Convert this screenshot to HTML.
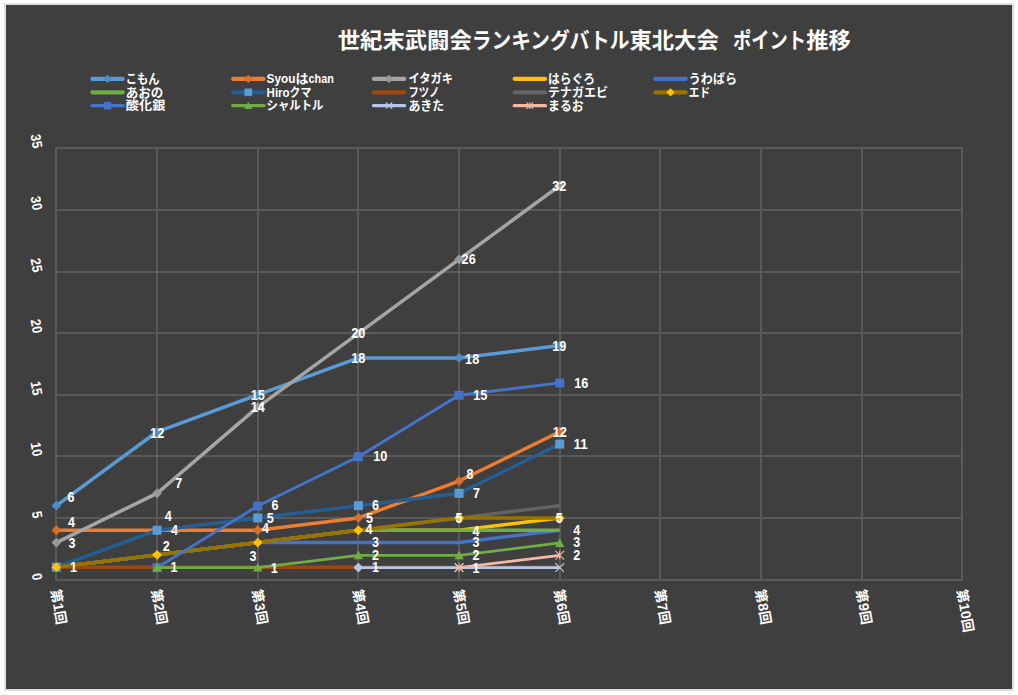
<!DOCTYPE html>
<html lang="ja"><head><meta charset="utf-8"><title>世紀末武闘会ランキングバトル東北大会 ポイント推移</title>
<style>
html,body{margin:0;padding:0;background:#fff;}
body{width:1018px;height:695px;overflow:hidden;font-family:"Liberation Sans","Noto Sans CJK JP",sans-serif;}
svg{display:block;}
svg text{font-family:"Liberation Sans","Noto Sans CJK JP",sans-serif;font-weight:bold;fill:#fff;stroke:none;}
.jt{stroke-linejoin:round;}
</style></head><body>
<svg width="1018" height="695" viewBox="0 0 1018 695">
<rect x="0" y="0" width="1018" height="695" fill="#fff"/>
<rect x="4" y="3" width="1010" height="688" fill="#dfdfdf"/>
<rect x="6" y="5" width="1006" height="684" fill="#3f3f3f"/>
<path d="M55 580H963M55 518H963M55 456H963M55 395H963M55 333H963M55 272H963M55 210H963M55 148H963M56 148V580M157 148V580M258 148V580M358 148V580M459 148V580M560 148V580M660 148V580M761 148V580M862 148V580M962 148V580" stroke="#5a5a5a" stroke-width="2" fill="none"/>
<path d="M56.40 505.64 L157.07 431.78 L257.73 394.85 L358.40 357.92 L459.07 357.92 L559.74 345.61" stroke="#5B9BD5" stroke-width="3.5" fill="none" stroke-linejoin="round"/>
<path d="M56.40 500.74 L61.30 505.64 L56.40 510.54 L51.50 505.64Z" fill="#4F8CC6"/>
<path d="M157.07 426.88 L161.97 431.78 L157.07 436.68 L152.17 431.78Z" fill="#4F8CC6"/>
<path d="M257.73 389.95 L262.63 394.85 L257.73 399.75 L252.83 394.85Z" fill="#4F8CC6"/>
<path d="M358.40 353.02 L363.30 357.92 L358.40 362.82 L353.50 357.92Z" fill="#4F8CC6"/>
<path d="M459.07 353.02 L463.97 357.92 L459.07 362.82 L454.17 357.92Z" fill="#4F8CC6"/>
<path d="M559.74 340.71 L564.63 345.61 L559.74 350.51 L554.84 345.61Z" fill="#4F8CC6"/>
<path d="M56.40 530.26 L157.07 530.26 L257.73 530.26 L358.40 517.95 L459.07 481.02 L559.74 431.78" stroke="#ED7D31" stroke-width="3.5" fill="none" stroke-linejoin="round"/>
<path d="M56.40 525.36 L61.30 530.26 L56.40 535.16 L51.50 530.26Z" fill="#DB6E2A"/>
<path d="M157.07 525.36 L161.97 530.26 L157.07 535.16 L152.17 530.26Z" fill="#DB6E2A"/>
<path d="M257.73 525.36 L262.63 530.26 L257.73 535.16 L252.83 530.26Z" fill="#DB6E2A"/>
<path d="M358.40 513.05 L363.30 517.95 L358.40 522.85 L353.50 517.95Z" fill="#DB6E2A"/>
<path d="M459.07 476.12 L463.97 481.02 L459.07 485.92 L454.17 481.02Z" fill="#DB6E2A"/>
<path d="M559.74 426.88 L564.63 431.78 L559.74 436.68 L554.84 431.78Z" fill="#DB6E2A"/>
<path d="M56.40 542.57 L157.07 493.33 L257.73 407.16 L358.40 333.30 L459.07 259.44 L559.74 185.58" stroke="#A5A5A5" stroke-width="3.5" fill="none" stroke-linejoin="round"/>
<path d="M56.40 537.67 L61.30 542.57 L56.40 547.47 L51.50 542.57Z" fill="#9A9A9A"/>
<path d="M157.07 488.43 L161.97 493.33 L157.07 498.23 L152.17 493.33Z" fill="#9A9A9A"/>
<path d="M257.73 402.26 L262.63 407.16 L257.73 412.06 L252.83 407.16Z" fill="#9A9A9A"/>
<path d="M358.40 328.40 L363.30 333.30 L358.40 338.20 L353.50 333.30Z" fill="#9A9A9A"/>
<path d="M459.07 254.54 L463.97 259.44 L459.07 264.34 L454.17 259.44Z" fill="#9A9A9A"/>
<path d="M559.74 180.68 L564.63 185.58 L559.74 190.48 L554.84 185.58Z" fill="#9A9A9A"/>
<path d="M56.40 567.19 L157.07 554.88 L257.73 542.57 L358.40 530.26 L459.07 530.26 L559.74 517.95" stroke="#FFC000" stroke-width="3.5" fill="none" stroke-linejoin="round"/>
<path d="M56.40 567.19 L157.07 554.88 L257.73 542.57 L358.40 542.57 L459.07 542.57 L559.74 530.26" stroke="#4472C4" stroke-width="3.5" fill="none" stroke-linejoin="round"/>
<path d="M56.40 567.19 L157.07 554.88 L257.73 542.57 L358.40 530.26 L459.07 530.26 L559.74 530.26" stroke="#70AD47" stroke-width="3.5" fill="none" stroke-linejoin="round"/>
<path d="M56.40 567.19 L157.07 530.26 L257.73 517.95 L358.40 505.64 L459.07 493.33 L559.74 444.09" stroke="#255E91" stroke-width="3.5" fill="none" stroke-linejoin="round"/>
<rect x="51.90" y="562.69" width="9.00" height="9.00" fill="#5B9BD5"/>
<rect x="152.57" y="525.76" width="9.00" height="9.00" fill="#5B9BD5"/>
<rect x="253.23" y="513.45" width="9.00" height="9.00" fill="#5B9BD5"/>
<rect x="353.90" y="501.14" width="9.00" height="9.00" fill="#5B9BD5"/>
<rect x="454.57" y="488.83" width="9.00" height="9.00" fill="#5B9BD5"/>
<rect x="555.24" y="439.59" width="9.00" height="9.00" fill="#5B9BD5"/>
<path d="M56.40 567.19 L157.07 567.19 L257.73 567.19 L358.40 567.19 L459.07 567.19 L559.74 567.19" stroke="#9E480E" stroke-width="3.5" fill="none" stroke-linejoin="round"/>
<path d="M56.40 567.19 L157.07 554.88 L257.73 542.57 L358.40 530.26 L459.07 517.95 L559.74 505.64" stroke="#636363" stroke-width="3.5" fill="none" stroke-linejoin="round"/>
<path d="M56.40 567.19 L157.07 554.88 L257.73 542.57 L358.40 530.26 L459.07 517.95 L559.74 517.95" stroke="#997300" stroke-width="3.5" fill="none" stroke-linejoin="round"/>
<path d="M56.40 562.29 L61.30 567.19 L56.40 572.09 L51.50 567.19Z" fill="#FFC000"/>
<path d="M157.07 549.98 L161.97 554.88 L157.07 559.78 L152.17 554.88Z" fill="#FFC000"/>
<path d="M257.73 537.67 L262.63 542.57 L257.73 547.47 L252.83 542.57Z" fill="#FFC000"/>
<path d="M358.40 525.36 L363.30 530.26 L358.40 535.16 L353.50 530.26Z" fill="#FFC000"/>
<path d="M459.07 513.05 L463.97 517.95 L459.07 522.85 L454.17 517.95Z" fill="#FFC000"/>
<path d="M559.74 513.05 L564.63 517.95 L559.74 522.85 L554.84 517.95Z" fill="#FFC000"/>
<path d="M157.07 567.59 L257.73 506.04 L358.40 456.80 L459.07 395.25 L559.74 382.94" stroke="#4674CC" stroke-width="2.8" fill="none" stroke-linejoin="round"/>
<rect x="152.57" y="563.09" width="9.00" height="9.00" fill="#4472C4"/>
<rect x="253.23" y="501.54" width="9.00" height="9.00" fill="#4472C4"/>
<rect x="353.90" y="452.30" width="9.00" height="9.00" fill="#4472C4"/>
<rect x="454.57" y="390.75" width="9.00" height="9.00" fill="#4472C4"/>
<rect x="555.24" y="378.44" width="9.00" height="9.00" fill="#4472C4"/>
<path d="M157.07 567.59 L257.73 567.59 L358.40 555.28 L459.07 555.28 L559.74 542.97" stroke="#70AD47" stroke-width="2.8" fill="none" stroke-linejoin="round"/>
<path d="M157.07 562.89 L161.77 571.59 L152.37 571.59Z" fill="#70AD47"/>
<path d="M257.73 562.89 L262.43 571.59 L253.03 571.59Z" fill="#70AD47"/>
<path d="M358.40 550.58 L363.10 559.27 L353.70 559.27Z" fill="#70AD47"/>
<path d="M459.07 550.58 L463.77 559.27 L454.37 559.27Z" fill="#70AD47"/>
<path d="M559.74 538.27 L564.44 546.97 L555.03 546.97Z" fill="#70AD47"/>
<path d="M358.40 567.59 L459.07 567.59 L559.74 567.59" stroke="#B4C7E7" stroke-width="2.8" fill="none" stroke-linejoin="round"/>
<path d="M358.40 562.69 L363.30 567.59 L358.40 572.49 L353.50 567.59Z" fill="#B4C7E7"/>
<path d="M454.77 563.29 L463.37 571.89 M454.77 571.89 L463.37 563.29" stroke="#B4C7E7" stroke-width="1.2" fill="none"/>
<path d="M555.44 563.29 L564.03 571.89 M555.44 571.89 L564.03 563.29" stroke="#B4C7E7" stroke-width="1.2" fill="none"/>
<path d="M459.07 567.59 L559.74 555.28" stroke="#F4B8A4" stroke-width="2.8" fill="none" stroke-linejoin="round"/>
<path d="M454.77 563.29 L463.37 571.89 M454.77 571.89 L463.37 563.29 M459.07 563.29 L459.07 571.89" stroke="#F4B8A4" stroke-width="1.1" fill="none"/>
<path d="M555.44 550.98 L564.03 559.58 M555.44 559.58 L564.03 550.98 M559.74 550.98 L559.74 559.58" stroke="#F4B8A4" stroke-width="1.1" fill="none"/>
<g class="dl" font-size="14"><text x="67.4" y="501.9" textLength="7.0" lengthAdjust="spacingAndGlyphs">6</text><text x="68.1" y="527.1" textLength="7.0" lengthAdjust="spacingAndGlyphs">4</text><text x="68.6" y="548.0" textLength="7.0" lengthAdjust="spacingAndGlyphs">3</text><text x="70.0" y="572.2" textLength="7.0" lengthAdjust="spacingAndGlyphs">1</text><text x="150.1" y="437.6" textLength="14.1" lengthAdjust="spacingAndGlyphs">12</text><text x="175.2" y="487.9" textLength="7.0" lengthAdjust="spacingAndGlyphs">7</text><text x="164.8" y="520.9" textLength="7.0" lengthAdjust="spacingAndGlyphs">4</text><text x="171.0" y="535.4" textLength="7.0" lengthAdjust="spacingAndGlyphs">4</text><text x="162.7" y="550.6" textLength="7.0" lengthAdjust="spacingAndGlyphs">2</text><text x="170.5" y="572.0" textLength="7.0" lengthAdjust="spacingAndGlyphs">1</text><text x="250.8" y="400.1" textLength="14.1" lengthAdjust="spacingAndGlyphs">15</text><text x="250.8" y="412.1" textLength="14.1" lengthAdjust="spacingAndGlyphs">14</text><text x="271.4" y="510.1" textLength="7.0" lengthAdjust="spacingAndGlyphs">6</text><text x="266.7" y="522.9" textLength="7.0" lengthAdjust="spacingAndGlyphs">5</text><text x="261.9" y="533.0" textLength="7.0" lengthAdjust="spacingAndGlyphs">4</text><text x="249.6" y="560.5" textLength="7.0" lengthAdjust="spacingAndGlyphs">3</text><text x="270.8" y="573.1" textLength="7.0" lengthAdjust="spacingAndGlyphs">1</text><text x="351.3" y="338.4" textLength="14.1" lengthAdjust="spacingAndGlyphs">20</text><text x="351.3" y="362.9" textLength="14.1" lengthAdjust="spacingAndGlyphs">18</text><text x="373.3" y="461.4" textLength="14.1" lengthAdjust="spacingAndGlyphs">10</text><text x="372.1" y="510.1" textLength="7.0" lengthAdjust="spacingAndGlyphs">6</text><text x="366.1" y="523.1" textLength="7.0" lengthAdjust="spacingAndGlyphs">5</text><text x="365.4" y="534.4" textLength="7.0" lengthAdjust="spacingAndGlyphs">4</text><text x="372.1" y="547.2" textLength="7.0" lengthAdjust="spacingAndGlyphs">3</text><text x="372.1" y="559.8" textLength="7.0" lengthAdjust="spacingAndGlyphs">2</text><text x="372.1" y="572.4" textLength="7.0" lengthAdjust="spacingAndGlyphs">1</text><text x="461.6" y="263.9" textLength="14.1" lengthAdjust="spacingAndGlyphs">26</text><text x="465.1" y="363.9" textLength="14.1" lengthAdjust="spacingAndGlyphs">18</text><text x="473.3" y="399.8" textLength="14.1" lengthAdjust="spacingAndGlyphs">15</text><text x="466.4" y="479.1" textLength="7.0" lengthAdjust="spacingAndGlyphs">8</text><text x="473.1" y="498.4" textLength="7.0" lengthAdjust="spacingAndGlyphs">7</text><text x="455.4" y="522.5" textLength="7.0" lengthAdjust="spacingAndGlyphs">5</text><text x="472.6" y="535.5" textLength="7.0" lengthAdjust="spacingAndGlyphs">4</text><text x="472.6" y="547.2" textLength="7.0" lengthAdjust="spacingAndGlyphs">3</text><text x="472.6" y="560.2" textLength="7.0" lengthAdjust="spacingAndGlyphs">2</text><text x="472.6" y="572.6" textLength="7.0" lengthAdjust="spacingAndGlyphs">1</text><text x="552.2" y="191.1" textLength="14.1" lengthAdjust="spacingAndGlyphs">32</text><text x="552.2" y="351.4" textLength="14.1" lengthAdjust="spacingAndGlyphs">19</text><text x="574.2" y="387.8" textLength="14.1" lengthAdjust="spacingAndGlyphs">16</text><text x="552.7" y="437.2" textLength="14.1" lengthAdjust="spacingAndGlyphs">12</text><text x="573.5" y="449.2" textLength="14.1" lengthAdjust="spacingAndGlyphs">11</text><text x="555.7" y="522.6" textLength="7.0" lengthAdjust="spacingAndGlyphs">5</text><text x="573.3" y="535.2" textLength="7.0" lengthAdjust="spacingAndGlyphs">4</text><text x="573.3" y="547.4" textLength="7.0" lengthAdjust="spacingAndGlyphs">3</text><text x="573.3" y="560.4" textLength="7.0" lengthAdjust="spacingAndGlyphs">2</text></g>
<g class="dl" font-size="14"><text transform="translate(37.9 580.20) rotate(80)" x="-7.1" y="4.9" textLength="7.1" lengthAdjust="spacingAndGlyphs">0</text><text transform="translate(37.9 518.20) rotate(80)" x="-7.1" y="4.9" textLength="7.1" lengthAdjust="spacingAndGlyphs">5</text><text transform="translate(37.9 456.20) rotate(80)" x="-14.2" y="4.9" textLength="14.2" lengthAdjust="spacingAndGlyphs">10</text><text transform="translate(37.9 395.20) rotate(80)" x="-14.2" y="4.9" textLength="14.2" lengthAdjust="spacingAndGlyphs">15</text><text transform="translate(37.9 333.20) rotate(80)" x="-14.2" y="4.9" textLength="14.2" lengthAdjust="spacingAndGlyphs">20</text><text transform="translate(37.9 272.20) rotate(80)" x="-14.2" y="4.9" textLength="14.2" lengthAdjust="spacingAndGlyphs">25</text><text transform="translate(37.9 210.20) rotate(80)" x="-14.2" y="4.9" textLength="14.2" lengthAdjust="spacingAndGlyphs">30</text><text transform="translate(37.9 148.20) rotate(80)" x="-14.2" y="4.9" textLength="14.2" lengthAdjust="spacingAndGlyphs">35</text></g>
<g class="jt" transform="translate(50.70 590.20) rotate(80.00)" fill="#fff"><title>第1回</title><text x="0" y="0" font-size="13.6">第</text><text x="13.90" y="0.00" font-size="14.00" textLength="7.90" lengthAdjust="spacingAndGlyphs">1</text><text x="21.8" y="0" font-size="13.6">回</text></g>
<g class="jt" transform="translate(151.37 590.20) rotate(80.00)" fill="#fff"><title>第2回</title><text x="0" y="0" font-size="13.6">第</text><text x="13.90" y="0.00" font-size="14.00" textLength="7.90" lengthAdjust="spacingAndGlyphs">2</text><text x="21.8" y="0" font-size="13.6">回</text></g>
<g class="jt" transform="translate(252.03 590.20) rotate(80.00)" fill="#fff"><title>第3回</title><text x="0" y="0" font-size="13.6">第</text><text x="13.90" y="0.00" font-size="14.00" textLength="7.90" lengthAdjust="spacingAndGlyphs">3</text><text x="21.8" y="0" font-size="13.6">回</text></g>
<g class="jt" transform="translate(352.70 590.20) rotate(80.00)" fill="#fff"><title>第4回</title><text x="0" y="0" font-size="13.6">第</text><text x="13.90" y="0.00" font-size="14.00" textLength="7.90" lengthAdjust="spacingAndGlyphs">4</text><text x="21.8" y="0" font-size="13.6">回</text></g>
<g class="jt" transform="translate(453.37 590.20) rotate(80.00)" fill="#fff"><title>第5回</title><text x="0" y="0" font-size="13.6">第</text><text x="13.90" y="0.00" font-size="14.00" textLength="7.90" lengthAdjust="spacingAndGlyphs">5</text><text x="21.8" y="0" font-size="13.6">回</text></g>
<g class="jt" transform="translate(554.03 590.20) rotate(80.00)" fill="#fff"><title>第6回</title><text x="0" y="0" font-size="13.6">第</text><text x="13.90" y="0.00" font-size="14.00" textLength="7.90" lengthAdjust="spacingAndGlyphs">6</text><text x="21.8" y="0" font-size="13.6">回</text></g>
<g class="jt" transform="translate(654.70 590.20) rotate(80.00)" fill="#fff"><title>第7回</title><text x="0" y="0" font-size="13.6">第</text><text x="13.90" y="0.00" font-size="14.00" textLength="7.90" lengthAdjust="spacingAndGlyphs">7</text><text x="21.8" y="0" font-size="13.6">回</text></g>
<g class="jt" transform="translate(755.37 590.20) rotate(80.00)" fill="#fff"><title>第8回</title><text x="0" y="0" font-size="13.6">第</text><text x="13.90" y="0.00" font-size="14.00" textLength="7.90" lengthAdjust="spacingAndGlyphs">8</text><text x="21.8" y="0" font-size="13.6">回</text></g>
<g class="jt" transform="translate(856.04 590.20) rotate(80.00)" fill="#fff"><title>第9回</title><text x="0" y="0" font-size="13.6">第</text><text x="13.90" y="0.00" font-size="14.00" textLength="7.90" lengthAdjust="spacingAndGlyphs">9</text><text x="21.8" y="0" font-size="13.6">回</text></g>
<g class="jt" transform="translate(956.70 590.20) rotate(80.00)" fill="#fff"><title>第10回</title><text x="0" y="0" font-size="13.6">第</text><text x="13.90" y="0.00" font-size="14.00" textLength="15.80" lengthAdjust="spacingAndGlyphs">10</text><text x="29.7" y="0" font-size="13.6">回</text></g>
<g class="jt" transform="translate(337.70 48.10)" fill="#fff"><title>世紀末武闘会ランキングバトル東北大会　ポイント推移</title><text x="0" y="0" font-size="22.1" textLength="134.1" lengthAdjust="spacingAndGlyphs">世紀末武闘会</text><text x="134.1" y="0" font-size="22.1" textLength="157.6" lengthAdjust="spacingAndGlyphs">ランキングバトル</text><text x="291.7" y="0" font-size="22.1" textLength="89.4" lengthAdjust="spacingAndGlyphs">東北大会</text><text x="395.4" y="0" font-size="22.1" textLength="73.0" lengthAdjust="spacingAndGlyphs">ポイント</text><text x="468.5" y="0" font-size="22.1" textLength="44.7" lengthAdjust="spacingAndGlyphs">推移</text></g>
<path d="M92.40 78.90H122.70" stroke="#5B9BD5" stroke-width="4.2" stroke-linecap="round" fill="none"/>
<path d="M107.50 74.73 L111.67 78.90 L107.50 83.07 L103.33 78.90Z" fill="#4F8CC6"/>
<g class="jt" transform="translate(125.80 83.40)" fill="#fff"><title>こもん</title><text x="0" y="0" font-size="12.6" textLength="33.8" lengthAdjust="spacingAndGlyphs">こもん</text></g>
<path d="M233.20 78.90H263.50" stroke="#ED7D31" stroke-width="4.2" stroke-linecap="round" fill="none"/>
<path d="M248.30 74.73 L252.46 78.90 L248.30 83.07 L244.13 78.90Z" fill="#DB6E2A"/>
<g class="jt" transform="translate(266.60 83.40)" fill="#fff"><title>Syouはchan</title><text x="0.00" y="0.00" font-size="13.20" textLength="28.80" lengthAdjust="spacingAndGlyphs">Syou</text><text x="28.8" y="0" font-size="12.6" textLength="13" lengthAdjust="spacingAndGlyphs">は</text><text x="41.85" y="0.00" font-size="13.20" textLength="25.40" lengthAdjust="spacingAndGlyphs">chan</text></g>
<path d="M373.90 78.90H404.20" stroke="#A5A5A5" stroke-width="4.2" stroke-linecap="round" fill="none"/>
<path d="M389.00 74.73 L393.17 78.90 L389.00 83.07 L384.83 78.90Z" fill="#9A9A9A"/>
<g class="jt" transform="translate(408.40 83.40)" fill="#fff"><title>イタガキ</title><text x="0" y="0" font-size="12.4" textLength="44.7" lengthAdjust="spacingAndGlyphs">イタガキ</text></g>
<path d="M514.70 78.90H545.00" stroke="#FFC000" stroke-width="4.2" stroke-linecap="round" fill="none"/>
<g class="jt" transform="translate(548.10 83.40)" fill="#fff"><title>はらぐろ</title><text x="0" y="0" font-size="12.6" textLength="47" lengthAdjust="spacingAndGlyphs">はらぐろ</text></g>
<path d="M655.40 78.90H685.70" stroke="#4472C4" stroke-width="4.2" stroke-linecap="round" fill="none"/>
<g class="jt" transform="translate(688.80 83.40)" fill="#fff"><title>うわばら</title><text x="0" y="0" font-size="12.6" textLength="48.3" lengthAdjust="spacingAndGlyphs">うわばら</text></g>
<path d="M92.40 92.30H122.70" stroke="#70AD47" stroke-width="4.2" stroke-linecap="round" fill="none"/>
<g class="jt" transform="translate(125.80 96.80)" fill="#fff"><title>あおの</title><text x="0" y="0" font-size="12.6" textLength="37.6" lengthAdjust="spacingAndGlyphs">あおの</text></g>
<path d="M233.20 92.30H263.50" stroke="#255E91" stroke-width="4.2" stroke-linecap="round" fill="none"/>
<rect x="244.47" y="88.47" width="7.65" height="7.65" fill="#5B9BD5"/>
<g class="jt" transform="translate(266.60 96.80)" fill="#fff"><title>Hiroクマ</title><text x="0.00" y="0.00" font-size="13.20" textLength="23.00" lengthAdjust="spacingAndGlyphs">Hiro</text><text x="23.0" y="0" font-size="12.4" textLength="21.6" lengthAdjust="spacingAndGlyphs">クマ</text></g>
<path d="M373.90 92.30H404.20" stroke="#9E480E" stroke-width="4.2" stroke-linecap="round" fill="none"/>
<g class="jt" transform="translate(408.40 96.80)" fill="#fff"><title>フツノ</title><text x="0" y="0" font-size="12.4" textLength="31" lengthAdjust="spacingAndGlyphs">フツノ</text></g>
<path d="M514.70 92.30H545.00" stroke="#636363" stroke-width="4.2" stroke-linecap="round" fill="none"/>
<g class="jt" transform="translate(548.10 96.80)" fill="#fff"><title>テナガエビ</title><text x="0" y="0" font-size="12.4" textLength="60" lengthAdjust="spacingAndGlyphs">テナガエビ</text></g>
<path d="M655.40 92.30H685.70" stroke="#997300" stroke-width="4.2" stroke-linecap="round" fill="none"/>
<path d="M670.50 88.13 L674.66 92.30 L670.50 96.47 L666.34 92.30Z" fill="#FFC000"/>
<g class="jt" transform="translate(688.80 96.80)" fill="#fff"><title>エド</title><text x="0" y="0" font-size="12.4" textLength="21.3" lengthAdjust="spacingAndGlyphs">エド</text></g>
<path d="M91.95 105.70H123.15" stroke="#4674CC" stroke-width="3.3" stroke-linecap="round" fill="none"/>
<rect x="103.67" y="101.88" width="7.65" height="7.65" fill="#4472C4"/>
<g class="jt" transform="translate(125.80 110.00)" fill="#fff"><title>酸化銀</title><text x="0" y="0" font-size="12.4" textLength="39.6" lengthAdjust="spacingAndGlyphs">酸化銀</text></g>
<path d="M232.75 105.70H263.95" stroke="#70AD47" stroke-width="3.3" stroke-linecap="round" fill="none"/>
<path d="M248.30 101.70 L252.29 109.10 L244.30 109.10Z" fill="#70AD47"/>
<g class="jt" transform="translate(266.60 110.00)" fill="#fff"><title>シャルトル</title><text x="0" y="0" font-size="12.4" textLength="56.9" lengthAdjust="spacingAndGlyphs">シャルトル</text></g>
<path d="M373.45 105.70H404.65" stroke="#B4C7E7" stroke-width="3.3" stroke-linecap="round" fill="none"/>
<path d="M385.77 102.48 L392.23 108.92 M385.77 108.92 L392.23 102.48" stroke="#B4C7E7" stroke-width="1.2" fill="none"/>
<g class="jt" transform="translate(408.40 110.00)" fill="#fff"><title>あきた</title><text x="0" y="0" font-size="12.6" textLength="35.8" lengthAdjust="spacingAndGlyphs">あきた</text></g>
<path d="M514.25 105.70H545.45" stroke="#F4B8A4" stroke-width="3.3" stroke-linecap="round" fill="none"/>
<path d="M526.58 102.48 L533.03 108.92 M526.58 108.92 L533.03 102.48 M529.80 102.48 L529.80 108.92" stroke="#F4B8A4" stroke-width="1.1" fill="none"/>
<g class="jt" transform="translate(548.10 110.00)" fill="#fff"><title>まるお</title><text x="0" y="0" font-size="12.6" textLength="35.6" lengthAdjust="spacingAndGlyphs">まるお</text></g>
</svg>
</body></html>
